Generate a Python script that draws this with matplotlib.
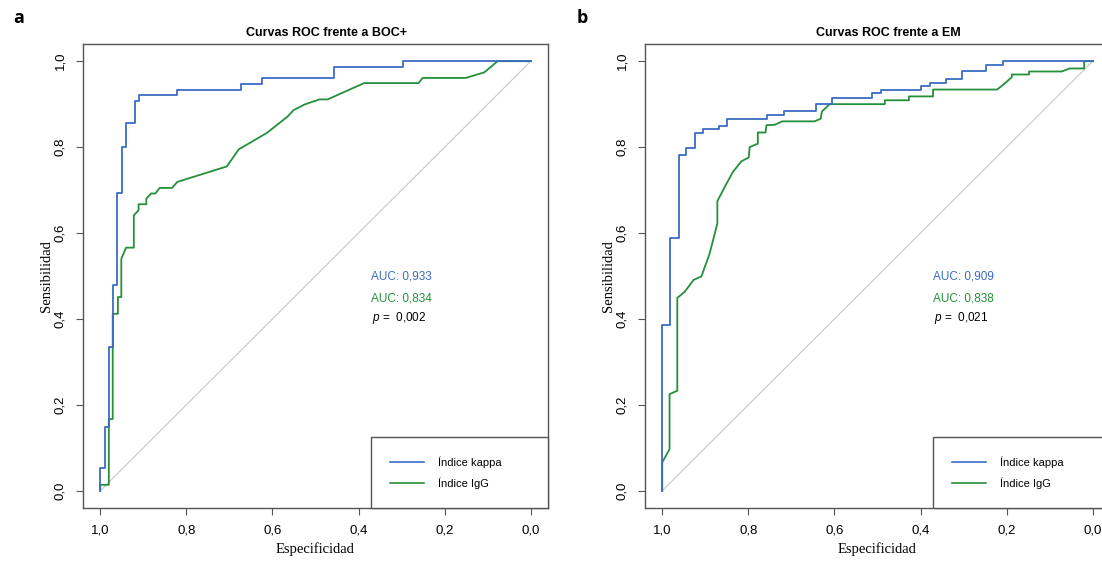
import matplotlib
matplotlib.use("Agg")
import matplotlib.pyplot as plt

# ===================== datos =====================
TICKS = [1.0, 0.8, 0.6, 0.4, 0.2, 0.0]
TICK_LABELS = ["1,0", "0,8", "0,6", "0,4", "0,2", "0,0"]
YTICKS = [0.0, 0.2, 0.4, 0.6, 0.8, 1.0]
YTICK_LABELS = ["0,0", "0,2", "0,4", "0,6", "0,8", "1,0"]

# panel a: frente a BOC+
spec_kappa_a = [1.0, 1.0, 0.99, 0.99, 0.98, 0.98, 0.971, 0.971, 0.961, 0.961, 0.949, 0.949,
                0.94, 0.94, 0.92, 0.92, 0.909, 0.909, 0.821, 0.821, 0.673, 0.673, 0.624, 0.624,
                0.456, 0.456, 0.296, 0.296, 0.0]
sens_kappa_a = [0.0, 0.054, 0.054, 0.148, 0.148, 0.334, 0.334, 0.478, 0.478, 0.694, 0.694, 0.80,
                0.80, 0.855, 0.855, 0.907, 0.907, 0.921, 0.921, 0.934, 0.934, 0.948, 0.948, 0.960,
                0.960, 0.987, 0.987, 1.0, 1.0]
spec_igg_a = [1.0, 1.0, 0.98, 0.98, 0.971, 0.971, 0.959, 0.959, 0.951, 0.951, 0.94, 0.922, 0.922,
              0.911, 0.911, 0.893, 0.893, 0.882, 0.872, 0.862, 0.833, 0.821, 0.706, 0.678, 0.613,
              0.565, 0.551, 0.526, 0.491, 0.472, 0.387, 0.261, 0.251, 0.151, 0.108, 0.077, 0.0]
sens_igg_a = [0.0, 0.014, 0.014, 0.167, 0.167, 0.412, 0.412, 0.451, 0.451, 0.54, 0.566, 0.566, 0.641,
              0.653, 0.667, 0.667, 0.68, 0.692, 0.692, 0.705, 0.705, 0.719, 0.755, 0.795, 0.833,
              0.871, 0.886, 0.899, 0.911, 0.911, 0.949, 0.949, 0.961, 0.961, 0.974, 1.0, 1.0]

# panel b: frente a EM
spec_kappa_b = [1.0, 1.0, 0.981, 0.981, 0.962, 0.962, 0.944, 0.944, 0.925, 0.925, 0.906, 0.906,
                0.868, 0.868, 0.850, 0.850, 0.756, 0.756, 0.718, 0.718, 0.643, 0.643, 0.606, 0.606,
                0.512, 0.512, 0.493, 0.493, 0.398, 0.398, 0.378, 0.378, 0.341, 0.341, 0.303, 0.303,
                0.247, 0.247, 0.209, 0.209, 0.0]
sens_kappa_b = [0.0, 0.386, 0.386, 0.588, 0.588, 0.782, 0.782, 0.799, 0.799, 0.833, 0.833, 0.841,
                0.841, 0.848, 0.848, 0.865, 0.865, 0.874, 0.874, 0.883, 0.883, 0.901, 0.901, 0.915,
                0.915, 0.926, 0.926, 0.934, 0.934, 0.942, 0.942, 0.950, 0.950, 0.959, 0.959, 0.977,
                0.977, 0.991, 0.991, 1.0, 1.0]
spec_igg_b = [1.0, 1.0, 0.983, 0.983, 0.965, 0.965, 0.948, 0.927, 0.909, 0.890, 0.872, 0.872, 0.855,
              0.836, 0.816, 0.799, 0.797, 0.778, 0.778, 0.760, 0.758, 0.739, 0.721, 0.646, 0.632,
              0.629, 0.611, 0.483, 0.483, 0.427, 0.427, 0.371, 0.371, 0.222, 0.200, 0.188, 0.188,
              0.148, 0.148, 0.072, 0.054, 0.020, 0.020, 0.0]
sens_igg_b = [0.0, 0.066, 0.097, 0.225, 0.233, 0.449, 0.463, 0.491, 0.499, 0.552, 0.622, 0.674, 0.707,
              0.742, 0.767, 0.776, 0.80, 0.808, 0.834, 0.834, 0.851, 0.852, 0.860, 0.860, 0.866,
              0.883, 0.90, 0.90, 0.909, 0.909, 0.918, 0.918, 0.934, 0.934, 0.952, 0.963, 0.969,
              0.969, 0.976, 0.976, 0.983, 0.983, 1.0, 1.0]

PANELS = ["a", "b"]
TITLES = ["Curvas ROC frente a BOC+", "Curvas ROC frente a EM"]
AUC_KAPPA = ["AUC: 0,933", "AUC: 0,909"]
AUC_IGG = ["AUC: 0,834", "AUC: 0,838"]
P_VALUES = ["0,002", "0,021"]
SERIES = ["Índice kappa", "Índice IgG"]

BLUE = "#3a6cc4"
GREEN = "#24903a"
SANS = ["Liberation Sans", "DejaVu Sans"]
SERIF = ["Liberation Serif", "DejaVu Serif"]

plt.rcParams["mathtext.fontset"] = "custom"
plt.rcParams["mathtext.it"] = "Liberation Sans:italic"
plt.rcParams["mathtext.rm"] = "Liberation Sans"

fig = plt.figure(figsize=(11.02, 5.61), dpi=100)
W, H = 1102, 561
ax_left_px = [83, 645]

curves = [
    (spec_kappa_a, sens_kappa_a, spec_igg_a, sens_igg_a),
    (spec_kappa_b, sens_kappa_b, spec_igg_b, sens_igg_b),
]

for i in range(2):
    ax = fig.add_axes([ax_left_px[i] / W, (H - 508) / H, 465 / W, 464 / H])
    sk, yk, sg, yg = curves[i]

    # diagonal de referencia
    ax.plot([1, 0], [0, 1], color="#c8c8c8", lw=0.8, zorder=1)
    ax.plot(sg, yg, color=GREEN, lw=1.3, label=SERIES[1], zorder=2)
    ax.plot(sk, yk, color=BLUE, lw=1.3, label=SERIES[0], zorder=3)

    ax.set_xlim(1.04, -0.04)
    ax.set_ylim(-0.04, 1.04)
    ax.set_xticks(TICKS)
    ax.set_xticklabels(TICK_LABELS, family=SANS, fontsize=9.5)
    ax.set_yticks(YTICKS)
    ax.set_yticklabels(YTICK_LABELS, family=SANS, fontsize=9.5,
                       rotation=90, va="center", ha="right")
    ax.tick_params(axis="both", length=5, width=0.8, color="#555555")
    ax.tick_params(axis="x", pad=7)
    ax.tick_params(axis="y", pad=7)
    for sp in ax.spines.values():
        sp.set_color("#555555")
        sp.set_linewidth(1.0)

    ax.set_title(TITLES[i], family=SANS, fontsize=9, fontweight="bold", x=0.524, pad=5.5)
    ax.set_xlabel("Especificidad", family=SERIF, fontsize=10.5, labelpad=4)
    ax.set_ylabel("Sensibilidad", family=SERIF, fontsize=10.5, labelpad=1)

    ax.text(0.30, 0.499, AUC_KAPPA[i], color=BLUE, family=SANS, fontsize=8.5,
            ha="center", va="center")
    ax.text(0.30, 0.448, AUC_IGG[i], color=GREEN, family=SANS, fontsize=8.5,
            ha="center", va="center")
    ax.text(0.305, 0.402, "$p$ =  " + P_VALUES[i], color="black", family=SANS,
            fontsize=8.5, ha="center", va="center")

    h, l = ax.get_legend_handles_labels()
    leg = ax.legend(h[::-1], l[::-1], loc="lower left",
                    bbox_to_anchor=(0.619, 0.0, 0.381, 0.153), mode="expand",
                    borderaxespad=0, fancybox=False, framealpha=1,
                    edgecolor="#555555", prop={"family": SANS, "size": 8},
                    handlelength=3.0, handletextpad=1.3, borderpad=1.75,
                    labelspacing=0.85)
    leg.get_frame().set_linewidth(1.0)
    for ln in leg.get_lines():
        ln.set_linewidth(1.2)

    fig.text((13 + 564 * i) / W, 1 - 18 / H, PANELS[i], fontsize=13, fontweight="bold",
             family=["Open Sans", "DejaVu Sans"], ha="left", va="center")

fig.savefig("out.png", dpi=100)
